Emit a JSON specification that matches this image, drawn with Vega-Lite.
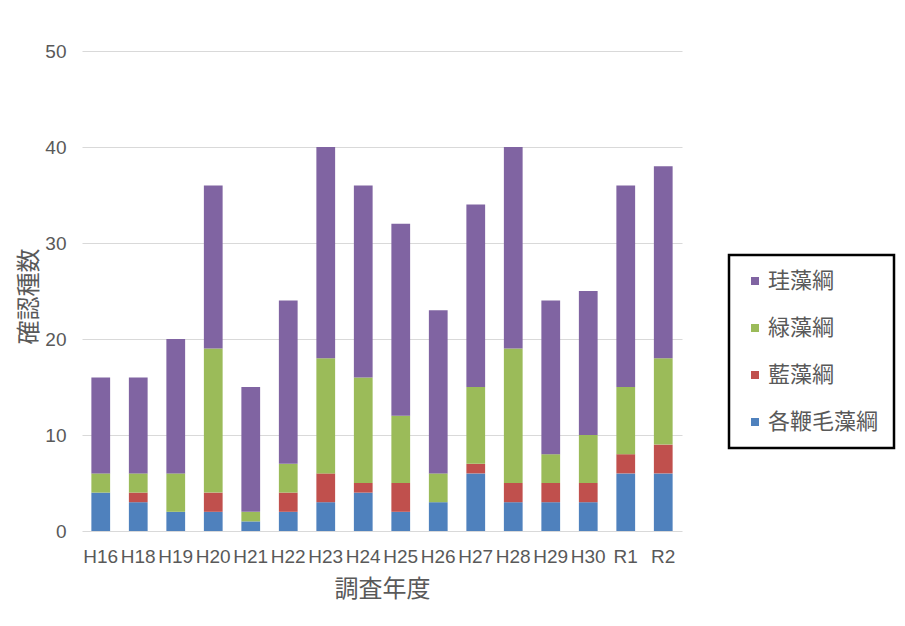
{
  "$schema": "https://vega.github.io/schema/vega-lite/v6.json",
  "autosize": {"type": "none"},
  "padding": {"left": 82, "top": 51, "right": 223, "bottom": 95},
  "width": 600,
  "height": 480,
  "background": "white",
  "config": {
    "view": {"stroke": null},
    "axis": {
      "labelFont": "Liberation Sans, sans-serif",
      "labelFontSize": 19,
      "labelColor": "#595959",
      "titleFont": "Noto Sans CJK JP",
      "titleFontSize": 24,
      "titleFontWeight": "normal",
      "titleColor": "#595959",
      "ticks": false,
      "domain": false
    },
    "legend": {
      "labelFont": "Noto Sans CJK JP",
      "labelFontSize": 22,
      "labelColor": "#595959",
      "strokeWidth": 2.5
    }
  },
  "data": {
    "values": [
      {"year": "H16", "class": "各鞭毛藻綱", "n": 4},
      {"year": "H16", "class": "藍藻綱", "n": 0},
      {"year": "H16", "class": "緑藻綱", "n": 2},
      {"year": "H16", "class": "珪藻綱", "n": 10},
      {"year": "H18", "class": "各鞭毛藻綱", "n": 3},
      {"year": "H18", "class": "藍藻綱", "n": 1},
      {"year": "H18", "class": "緑藻綱", "n": 2},
      {"year": "H18", "class": "珪藻綱", "n": 10},
      {"year": "H19", "class": "各鞭毛藻綱", "n": 2},
      {"year": "H19", "class": "藍藻綱", "n": 0},
      {"year": "H19", "class": "緑藻綱", "n": 4},
      {"year": "H19", "class": "珪藻綱", "n": 14},
      {"year": "H20", "class": "各鞭毛藻綱", "n": 2},
      {"year": "H20", "class": "藍藻綱", "n": 2},
      {"year": "H20", "class": "緑藻綱", "n": 15},
      {"year": "H20", "class": "珪藻綱", "n": 17},
      {"year": "H21", "class": "各鞭毛藻綱", "n": 1},
      {"year": "H21", "class": "藍藻綱", "n": 0},
      {"year": "H21", "class": "緑藻綱", "n": 1},
      {"year": "H21", "class": "珪藻綱", "n": 13},
      {"year": "H22", "class": "各鞭毛藻綱", "n": 2},
      {"year": "H22", "class": "藍藻綱", "n": 2},
      {"year": "H22", "class": "緑藻綱", "n": 3},
      {"year": "H22", "class": "珪藻綱", "n": 17},
      {"year": "H23", "class": "各鞭毛藻綱", "n": 3},
      {"year": "H23", "class": "藍藻綱", "n": 3},
      {"year": "H23", "class": "緑藻綱", "n": 12},
      {"year": "H23", "class": "珪藻綱", "n": 22},
      {"year": "H24", "class": "各鞭毛藻綱", "n": 4},
      {"year": "H24", "class": "藍藻綱", "n": 1},
      {"year": "H24", "class": "緑藻綱", "n": 11},
      {"year": "H24", "class": "珪藻綱", "n": 20},
      {"year": "H25", "class": "各鞭毛藻綱", "n": 2},
      {"year": "H25", "class": "藍藻綱", "n": 3},
      {"year": "H25", "class": "緑藻綱", "n": 7},
      {"year": "H25", "class": "珪藻綱", "n": 20},
      {"year": "H26", "class": "各鞭毛藻綱", "n": 3},
      {"year": "H26", "class": "藍藻綱", "n": 0},
      {"year": "H26", "class": "緑藻綱", "n": 3},
      {"year": "H26", "class": "珪藻綱", "n": 17},
      {"year": "H27", "class": "各鞭毛藻綱", "n": 6},
      {"year": "H27", "class": "藍藻綱", "n": 1},
      {"year": "H27", "class": "緑藻綱", "n": 8},
      {"year": "H27", "class": "珪藻綱", "n": 19},
      {"year": "H28", "class": "各鞭毛藻綱", "n": 3},
      {"year": "H28", "class": "藍藻綱", "n": 2},
      {"year": "H28", "class": "緑藻綱", "n": 14},
      {"year": "H28", "class": "珪藻綱", "n": 21},
      {"year": "H29", "class": "各鞭毛藻綱", "n": 3},
      {"year": "H29", "class": "藍藻綱", "n": 2},
      {"year": "H29", "class": "緑藻綱", "n": 3},
      {"year": "H29", "class": "珪藻綱", "n": 16},
      {"year": "H30", "class": "各鞭毛藻綱", "n": 3},
      {"year": "H30", "class": "藍藻綱", "n": 2},
      {"year": "H30", "class": "緑藻綱", "n": 5},
      {"year": "H30", "class": "珪藻綱", "n": 15},
      {"year": "R1", "class": "各鞭毛藻綱", "n": 6},
      {"year": "R1", "class": "藍藻綱", "n": 2},
      {"year": "R1", "class": "緑藻綱", "n": 7},
      {"year": "R1", "class": "珪藻綱", "n": 21},
      {"year": "R2", "class": "各鞭毛藻綱", "n": 6},
      {"year": "R2", "class": "藍藻綱", "n": 3},
      {"year": "R2", "class": "緑藻綱", "n": 9},
      {"year": "R2", "class": "珪藻綱", "n": 20}
    ]
  },
  "transform": [
    {"calculate": "indexof(['各鞭毛藻綱', '藍藻綱', '緑藻綱', '珪藻綱'], datum.class)", "as": "stackRank"}
  ],
  "mark": {"type": "bar"},
  "encoding": {
    "x": {
      "field": "year",
      "type": "nominal",
      "sort": null,
      "title": "調査年度",
      "scale": {"paddingInner": 0.5, "paddingOuter": 0.25},
      "axis": {"labelAngle": 0, "labelPadding": 16, "titlePadding": 11, "grid": false}
    },
    "y": {
      "field": "n",
      "type": "quantitative",
      "aggregate": "sum",
      "stack": "zero",
      "title": "確認種数",
      "scale": {"domain": [0, 50], "nice": false},
      "axis": {
        "values": [0, 10, 20, 30, 40, 50],
        "grid": true,
        "gridColor": "#d9d9d9",
        "gridWidth": 1.2,
        "labelPadding": 16,
        "titleX": -53,
        "titleY": 245,
        "titleAngle": -90,
        "titleAlign": "center",
        "titleBaseline": "middle"
      }
    },
    "color": {
      "field": "class",
      "type": "nominal",
      "scale": {
        "domain": ["珪藻綱", "緑藻綱", "藍藻綱", "各鞭毛藻綱"],
        "range": ["#8064A2", "#9BBB59", "#C0504D", "#4F81BD"]
      },
      "legend": {
        "title": null,
        "orient": "none",
        "legendX": 647,
        "legendY": 204,
        "symbolType": "square",
        "symbolSize": 64,
        "symbolStrokeWidth": 0,
        "labelOffset": 2,
        "rowPadding": 25,
        "padding": 15,
        "strokeColor": "#000000",
        "fillColor": "white"
      }
    },
    "order": {"field": "stackRank", "type": "quantitative", "sort": "ascending"}
  }
}
